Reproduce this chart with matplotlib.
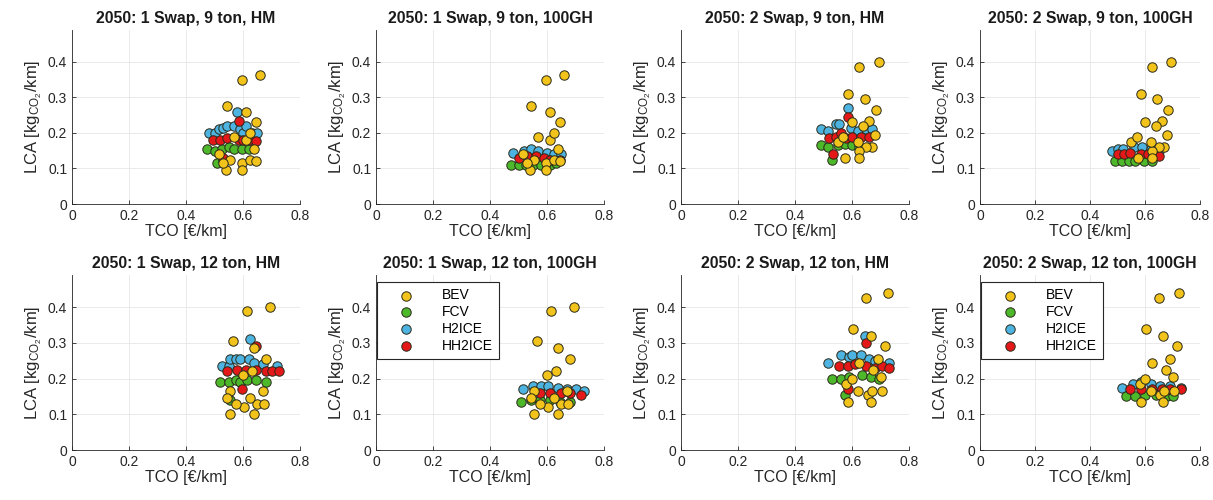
import matplotlib
matplotlib.use('Agg')
import matplotlib.pyplot as plt
from matplotlib.ticker import FormatStrFormatter

plt.rcParams['font.family'] = ['Liberation Sans', 'DejaVu Sans']
plt.rcParams['mathtext.fontset'] = 'custom'
plt.rcParams['mathtext.rm'] = 'Liberation Sans'
plt.rcParams['mathtext.it'] = 'Liberation Sans'

# data: (TCO [EUR/km], LCA [kgCO2/km])
titles = ['2050: 1 Swap, 9 ton, HM', '2050: 1 Swap, 9 ton, 100GH',
          '2050: 2 Swap, 9 ton, HM', '2050: 2 Swap, 9 ton, 100GH',
          '2050: 1 Swap, 12 ton, HM', '2050: 1 Swap, 12 ton, 100GH',
          '2050: 2 Swap, 12 ton, HM', '2050: 2 Swap, 12 ton, 100GH']
labels = ['BEV', 'FCV', 'H2ICE', 'HH2ICE']
colors = ['#F2C31A', '#4CB82A', '#4DB3E0', '#E41818']

# BEV is the same for HM and 100GH
bev_1s9_x = [0.595, 0.66, 0.545, 0.61, 0.645, 0.64, 0.515, 0.555, 0.595, 0.595, 0.54, 0.625, 0.645, 0.53, 0.57, 0.61, 0.625]
bev_1s9_y = [0.35, 0.362, 0.275, 0.26, 0.23, 0.155, 0.14, 0.125, 0.115, 0.095, 0.097, 0.125, 0.12, 0.115, 0.19, 0.18, 0.2]
bev_2s9_x = [0.625, 0.695, 0.585, 0.645, 0.685, 0.66, 0.64, 0.68, 0.67, 0.65, 0.625, 0.625, 0.575, 0.55, 0.6, 0.57, 0.62]
bev_2s9_y = [0.385, 0.4, 0.31, 0.295, 0.265, 0.235, 0.22, 0.195, 0.16, 0.16, 0.15, 0.13, 0.13, 0.175, 0.23, 0.19, 0.175]
bev_1s12_x = [0.615, 0.695, 0.565, 0.64, 0.68, 0.67, 0.555, 0.545, 0.605, 0.64, 0.555, 0.575, 0.65, 0.675, 0.625, 0.6, 0.63]
bev_1s12_y = [0.39, 0.4, 0.305, 0.285, 0.255, 0.165, 0.165, 0.145, 0.12, 0.1, 0.1, 0.13, 0.13, 0.13, 0.145, 0.21, 0.22]
bev_2s12_x = [0.65, 0.725, 0.605, 0.665, 0.715, 0.69, 0.58, 0.6, 0.62, 0.655, 0.67, 0.705, 0.585, 0.665, 0.625, 0.7, 0.675]
bev_2s12_y = [0.425, 0.44, 0.34, 0.32, 0.29, 0.255, 0.185, 0.2, 0.165, 0.155, 0.165, 0.165, 0.135, 0.135, 0.245, 0.205, 0.225]

fcv_x = [[0.475, 0.5, 0.525, 0.55, 0.57, 0.595, 0.51, 0.53, 0.62],
         [0.475, 0.5, 0.525, 0.55, 0.58, 0.61, 0.63],
         [0.49, 0.515, 0.53, 0.55, 0.575, 0.6, 0.625],
         [0.49, 0.515, 0.54, 0.565, 0.595, 0.625],
         [0.52, 0.55, 0.575, 0.59, 0.615, 0.645, 0.68, 0.555],
         [0.51, 0.545, 0.575, 0.61, 0.645, 0.68],
         [0.53, 0.56, 0.59, 0.635, 0.665, 0.695, 0.575],
         [0.53, 0.565, 0.6, 0.64, 0.68, 0.7]]
fcv_y = [[0.155, 0.15, 0.155, 0.16, 0.155, 0.155, 0.115, 0.12, 0.155],
         [0.11, 0.11, 0.11, 0.11, 0.11, 0.11, 0.115],
         [0.165, 0.16, 0.125, 0.165, 0.17, 0.165, 0.16],
         [0.12, 0.12, 0.12, 0.12, 0.12, 0.12],
         [0.19, 0.19, 0.195, 0.19, 0.195, 0.195, 0.19, 0.14],
         [0.135, 0.14, 0.14, 0.14, 0.135, 0.135],
         [0.2, 0.2, 0.205, 0.21, 0.205, 0.2, 0.155],
         [0.15, 0.15, 0.155, 0.155, 0.15, 0.15]]

h2ice_x = [[0.48, 0.5, 0.515, 0.53, 0.545, 0.57, 0.58, 0.59, 0.6, 0.61, 0.63, 0.65],
           [0.48, 0.52, 0.545, 0.57, 0.6, 0.625, 0.65],
           [0.49, 0.515, 0.545, 0.555, 0.585, 0.595, 0.62, 0.65, 0.67],
           [0.48, 0.5, 0.52, 0.56, 0.59, 0.62, 0.65],
           [0.525, 0.55, 0.555, 0.575, 0.59, 0.62, 0.625, 0.64, 0.67, 0.72],
           [0.515, 0.55, 0.58, 0.605, 0.64, 0.67, 0.7, 0.73],
           [0.515, 0.56, 0.59, 0.6, 0.63, 0.645, 0.66, 0.68, 0.73],
           [0.515, 0.555, 0.585, 0.62, 0.655, 0.69, 0.73]]
h2ice_y = [[0.2, 0.2, 0.21, 0.215, 0.22, 0.22, 0.26, 0.21, 0.2, 0.22, 0.2, 0.2],
           [0.145, 0.15, 0.155, 0.15, 0.145, 0.14, 0.14],
           [0.21, 0.205, 0.225, 0.225, 0.27, 0.215, 0.205, 0.21, 0.21],
           [0.15, 0.155, 0.155, 0.16, 0.16, 0.155, 0.15],
           [0.235, 0.235, 0.255, 0.255, 0.255, 0.255, 0.31, 0.245, 0.24, 0.235],
           [0.17, 0.18, 0.18, 0.18, 0.175, 0.17, 0.17, 0.165],
           [0.245, 0.265, 0.26, 0.265, 0.265, 0.32, 0.255, 0.25, 0.245],
           [0.175, 0.185, 0.19, 0.185, 0.18, 0.18, 0.175]]

hh2ice_x = [[0.495, 0.52, 0.545, 0.585, 0.6, 0.62, 0.645, 0.585, 0.53],
            [0.5, 0.53, 0.56, 0.59, 0.61, 0.645],
            [0.52, 0.545, 0.56, 0.58, 0.6, 0.63, 0.66, 0.585, 0.535],
            [0.5, 0.525, 0.545, 0.585, 0.61, 0.65],
            [0.545, 0.58, 0.61, 0.645, 0.68, 0.7, 0.725, 0.645, 0.595],
            [0.575, 0.61, 0.65, 0.68, 0.72],
            [0.555, 0.585, 0.61, 0.65, 0.68, 0.705, 0.73, 0.65, 0.585],
            [0.545, 0.585, 0.625, 0.66, 0.69, 0.73]]
hh2ice_y = [[0.18, 0.18, 0.185, 0.18, 0.18, 0.18, 0.178, 0.235, 0.13],
            [0.13, 0.135, 0.135, 0.13, 0.125, 0.125],
            [0.185, 0.19, 0.2, 0.185, 0.19, 0.19, 0.19, 0.245, 0.14],
            [0.14, 0.14, 0.145, 0.14, 0.14, 0.135],
            [0.22, 0.225, 0.225, 0.225, 0.22, 0.22, 0.22, 0.29, 0.17],
            [0.16, 0.16, 0.16, 0.16, 0.155],
            [0.235, 0.235, 0.24, 0.235, 0.23, 0.235, 0.23, 0.3, 0.17],
            [0.17, 0.17, 0.17, 0.17, 0.17, 0.17]]

bev_x = [bev_1s9_x, bev_1s9_x, bev_2s9_x, bev_2s9_x, bev_1s12_x, bev_1s12_x, bev_2s12_x, bev_2s12_x]
bev_y = [bev_1s9_y, bev_1s9_y, bev_2s9_y, bev_2s9_y, bev_1s12_y, bev_1s12_y, bev_2s12_y, bev_2s12_y]

W, H = 1213, 500
fig = plt.figure(figsize=(W / 100, H / 100), dpi=100)
lefts = [72, 376, 681, 980]
widths = [228, 228, 228, 220]
rows = [(204, 174), (450, 175)]  # (bottom px, height px)
axc = '#262626'

for i in range(8):
    r, c = divmod(i, 4)
    bot, h = rows[r]
    ax = fig.add_axes([lefts[c] / W, (H - bot) / H, widths[c] / W, h / H])
    xs = [bev_x[i], fcv_x[i], h2ice_x[i], hh2ice_x[i]]
    ys = [bev_y[i], fcv_y[i], h2ice_y[i], hh2ice_y[i]]
    zs = [5, 3, 2, 4]
    for k in range(4):
        ax.scatter(xs[k], ys[k], s=46, c=colors[k], edgecolors='#2a2a1a',
                   linewidths=0.7, label=labels[k], zorder=zs[k])
    ax.set_xlim(0, 0.8)
    ax.set_ylim(0, 0.49)
    ax.set_xticks([0, 0.2, 0.4, 0.6, 0.8])
    ax.set_yticks([0, 0.1, 0.2, 0.3, 0.4])
    ax.xaxis.set_major_formatter(FormatStrFormatter('%g'))
    ax.yaxis.set_major_formatter(FormatStrFormatter('%g'))
    ax.grid(True, color='#e6e6e6', linewidth=0.6)
    ax.set_axisbelow(True)
    for s in ['top', 'right']:
        ax.spines[s].set_visible(False)
    for s in ['left', 'bottom']:
        ax.spines[s].set_color(axc)
        ax.spines[s].set_linewidth(0.6)
    ax.tick_params(direction='in', length=3, width=0.6, colors=axc,
                   labelsize=10, labelcolor=axc)
    ax.set_title(titles[i], fontsize=11.3, fontweight='bold', color='#1a1a1a', pad=5)
    ax.set_xlabel('TCO [€/km]', fontsize=11.5, color=axc, labelpad=1)
    ax.set_ylabel(r'LCA [kg$_{\mathrm{CO}_2}$/km]', fontsize=12, color=axc, labelpad=3)
    if i in (5, 7):
        leg = ax.legend(loc='upper left', bbox_to_anchor=(0.005, 0.96), borderaxespad=0,
                        fancybox=False, framealpha=1, edgecolor='#262626',
                        fontsize=10, handletextpad=1.0, borderpad=0.45,
                        labelspacing=0.2, handlelength=3.2, scatterpoints=1)
        leg.get_frame().set_linewidth(0.8)
        leg.set_zorder(10)

fig.savefig('out.png', dpi=100)
